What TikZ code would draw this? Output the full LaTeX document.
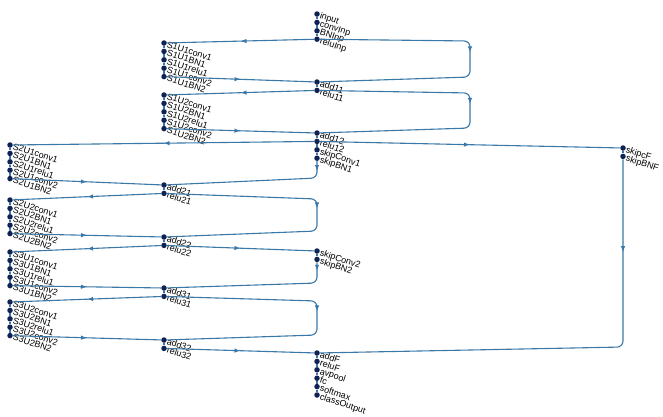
\documentclass[tikz,border=0pt]{standalone}
\usepackage{fontspec}
\setmainfont{Liberation Sans}
\usetikzlibrary{positioning, arrows.meta, decorations.markings}
\definecolor{EdgeBlue}{RGB}{58,120,168}
\definecolor{LayerNavy}{RGB}{14,34,84}

\tikzset{
  layer/.style={circle, fill=LayerNavy, inner sep=0pt, minimum size=5.5pt},
  lbl/.style={font=\fontsize{9}{9}\selectfont, text=black, rotate=-18, anchor=north west, inner sep=0.5pt, yshift=3pt},
  edge/.style={draw=EdgeBlue, line width=1.1pt, rounded corners=6pt},
  midarrow/.style={postaction={decorate}, decoration={markings, mark=at position #1 with {\arrow{Latex[length=6pt,width=4.5pt,color=EdgeBlue]}}}},
  midarrow/.default=0.5
}

\begin{document}
\begin{tikzpicture}[x=1pt, y=-1pt, node distance=2.5pt]
    \useasboundingbox (0,0) rectangle (663,416);

    % main column
    \node[layer, label={[lbl]0:input}] (input) at (317,14) {};
    \node[layer, below=of input, label={[lbl]0:convInp}] (convInp) {};
    \node[layer, below=of convInp, label={[lbl]0:BNInp}] (BNInp) {};
    \node[layer, below=of BNInp, label={[lbl]0:reluInp}] (reluInp) {};
    \node[layer, label={[lbl]0:add11}] (add11) at (317,82) {};
    \node[layer, below=of add11, label={[lbl]0:relu11}] (relu11) {};
    \node[layer, label={[lbl]0:add12}] (add12) at (317,133) {};
    \node[layer, below=of add12, label={[lbl]0:relu12}] (relu12) {};
    \node[layer, below=of relu12, label={[lbl]0:skipConv1}] (skipConv1) {};
    \node[layer, below=of skipConv1, label={[lbl]0:skipBN1}] (skipBN1) {};
    \node[layer, label={[lbl]0:skipConv2}] (skipConv2) at (317,251) {};
    \node[layer, below=of skipConv2, label={[lbl]0:skipBN2}] (skipBN2) {};
    \node[layer, label={[lbl]0:addF}] (addF) at (317,353) {};
    \node[layer, below=of addF, label={[lbl]0:reluF}] (reluF) {};
    \node[layer, below=of reluF, label={[lbl]0:avpool}] (avpool) {};
    \node[layer, below=of avpool, label={[lbl]0:fc}] (fc) {};
    \node[layer, below=of fc, label={[lbl]0:softmax}] (softmax) {};
    \node[layer, below=of softmax, label={[lbl]0:classOutput}] (classOutput) {};

    % stage 1 units
    \node[layer, label={[lbl]0:S1U1conv1}] (S1U1conv1) at (164,43) {};
    \node[layer, below=of S1U1conv1, label={[lbl]0:S1U1BN1}] (S1U1BN1) {};
    \node[layer, below=of S1U1BN1, label={[lbl]0:S1U1relu1}] (S1U1relu1) {};
    \node[layer, below=of S1U1relu1, label={[lbl]0:S1U1conv2}] (S1U1conv2) {};
    \node[layer, below=of S1U1conv2, label={[lbl]0:S1U1BN2}] (S1U1BN2) {};
    \node[layer, label={[lbl]0:S1U2conv1}] (S1U2conv1) at (164,95) {};
    \node[layer, below=of S1U2conv1, label={[lbl]0:S1U2BN1}] (S1U2BN1) {};
    \node[layer, below=of S1U2BN1, label={[lbl]0:S1U2relu1}] (S1U2relu1) {};
    \node[layer, below=of S1U2relu1, label={[lbl]0:S1U2conv2}] (S1U2conv2) {};
    \node[layer, below=of S1U2conv2, label={[lbl]0:S1U2BN2}] (S1U2BN2) {};

    % additions of stages 2 and 3
    \node[layer, label={[lbl]0:add21}] (add21) at (164,185) {};
    \node[layer, below=of add21, label={[lbl]0:relu21}] (relu21) {};
    \node[layer, label={[lbl]0:add22}] (add22) at (164,237) {};
    \node[layer, below=of add22, label={[lbl]0:relu22}] (relu22) {};
    \node[layer, label={[lbl]0:add31}] (add31) at (164,288) {};
    \node[layer, below=of add31, label={[lbl]0:relu31}] (relu31) {};
    \node[layer, label={[lbl]0:add32}] (add32) at (164,340) {};
    \node[layer, below=of add32, label={[lbl]0:relu32}] (relu32) {};

    % stage 2 and 3 units
    \node[layer, label={[lbl]0:S2U1conv1}] (S2U1conv1) at (10,145) {};
    \node[layer, below=of S2U1conv1, label={[lbl]0:S2U1BN1}] (S2U1BN1) {};
    \node[layer, below=of S2U1BN1, label={[lbl]0:S2U1relu1}] (S2U1relu1) {};
    \node[layer, below=of S2U1relu1, label={[lbl]0:S2U1conv2}] (S2U1conv2) {};
    \node[layer, below=of S2U1conv2, label={[lbl]0:S2U1BN2}] (S2U1BN2) {};
    \node[layer, label={[lbl]0:S2U2conv1}] (S2U2conv1) at (10,200) {};
    \node[layer, below=of S2U2conv1, label={[lbl]0:S2U2BN1}] (S2U2BN1) {};
    \node[layer, below=of S2U2BN1, label={[lbl]0:S2U2relu1}] (S2U2relu1) {};
    \node[layer, below=of S2U2relu1, label={[lbl]0:S2U2conv2}] (S2U2conv2) {};
    \node[layer, below=of S2U2conv2, label={[lbl]0:S2U2BN2}] (S2U2BN2) {};
    \node[layer, label={[lbl]0:S3U1conv1}] (S3U1conv1) at (10,252) {};
    \node[layer, below=of S3U1conv1, label={[lbl]0:S3U1BN1}] (S3U1BN1) {};
    \node[layer, below=of S3U1BN1, label={[lbl]0:S3U1relu1}] (S3U1relu1) {};
    \node[layer, below=of S3U1relu1, label={[lbl]0:S3U1conv2}] (S3U1conv2) {};
    \node[layer, below=of S3U1conv2, label={[lbl]0:S3U1BN2}] (S3U1BN2) {};
    \node[layer, label={[lbl]0:S3U2conv1}] (S3U2conv1) at (10,302) {};
    \node[layer, below=of S3U2conv1, label={[lbl]0:S3U2BN1}] (S3U2BN1) {};
    \node[layer, below=of S3U2BN1, label={[lbl]0:S3U2relu1}] (S3U2relu1) {};
    \node[layer, below=of S3U2relu1, label={[lbl]0:S3U2conv2}] (S3U2conv2) {};
    \node[layer, below=of S3U2conv2, label={[lbl]0:S3U2BN2}] (S3U2BN2) {};

    % final skip
    \node[layer, label={[lbl]0:skipcF}] (skipcF) at (623,148) {};
    \node[layer, below=of skipcF, label={[lbl]0:skipBNF}] (skipBNF) {};

    % chains inside a block
    \draw[edge] (input) -- (convInp) -- (BNInp) -- (reluInp);
    \draw[edge] (add11) -- (relu11);
    \draw[edge] (add12) -- (relu12) -- (skipConv1) -- (skipBN1);
    \draw[edge] (skipConv2) -- (skipBN2);
    \draw[edge] (addF) -- (reluF) -- (avpool) -- (fc) -- (softmax) -- (classOutput);
    \draw[edge] (S1U1conv1) -- (S1U1BN1) -- (S1U1relu1) -- (S1U1conv2) -- (S1U1BN2);
    \draw[edge] (S1U2conv1) -- (S1U2BN1) -- (S1U2relu1) -- (S1U2conv2) -- (S1U2BN2);
    \draw[edge] (add21) -- (relu21);
    \draw[edge] (add22) -- (relu22);
    \draw[edge] (add31) -- (relu31);
    \draw[edge] (add32) -- (relu32);
    \draw[edge] (S2U1conv1) -- (S2U1BN1) -- (S2U1relu1) -- (S2U1conv2) -- (S2U1BN2);
    \draw[edge] (S2U2conv1) -- (S2U2BN1) -- (S2U2relu1) -- (S2U2conv2) -- (S2U2BN2);
    \draw[edge] (S3U1conv1) -- (S3U1BN1) -- (S3U1relu1) -- (S3U1conv2) -- (S3U1BN2);
    \draw[edge] (S3U2conv1) -- (S3U2BN1) -- (S3U2relu1) -- (S3U2conv2) -- (S3U2BN2);
    \draw[edge] (skipcF) -- (skipBNF);

    % stage 1
    \draw[edge, midarrow] (reluInp) -- (S1U1conv1);
    \draw[edge, midarrow=0.48] (reluInp) -- (470,41) -- (470,77) -- (add11);
    \draw[edge, midarrow] (S1U1BN2) -- (add11);
    \draw[edge, midarrow] (relu11) -- (S1U2conv1);
    \draw[edge, midarrow=0.48] (relu11) -- (470,93) -- (470,128) -- (add12);
    \draw[edge, midarrow] (S1U2BN2) -- (add12);

    % stage 2
    \draw[edge, midarrow] (relu12) -- (S2U1conv1);
    \draw[edge, midarrow] (relu12) -- (skipcF);
    \draw[edge, midarrow=0.06] (skipBN1) -- (317,178) -- (add21);
    \draw[edge, midarrow] (S2U1BN2) -- (add21);
    \draw[edge, midarrow] (relu21) -- (S2U2conv1);
    \draw[edge, midarrow=0.48] (relu21) -- (317,199) -- (317,231) -- (add22);
    \draw[edge, midarrow] (S2U2BN2) -- (add22);

    % stage 3
    \draw[edge, midarrow] (relu22) -- (S3U1conv1);
    \draw[edge, midarrow] (relu22) -- (skipConv2);
    \draw[edge, midarrow=0.05] (skipBN2) -- (317,283) -- (add31);
    \draw[edge, midarrow] (S3U1BN2) -- (add31);
    \draw[edge, midarrow] (relu31) -- (S3U2conv1);
    \draw[edge, midarrow=0.48] (relu31) -- (317,301) -- (317,335) -- (add32);
    \draw[edge, midarrow] (S3U2BN2) -- (add32);
    \draw[edge, midarrow] (relu32) -- (addF);
    \draw[edge, midarrow=0.19] (skipBNF) -- (623,347) -- (addF);
\end{tikzpicture}
\end{document}
